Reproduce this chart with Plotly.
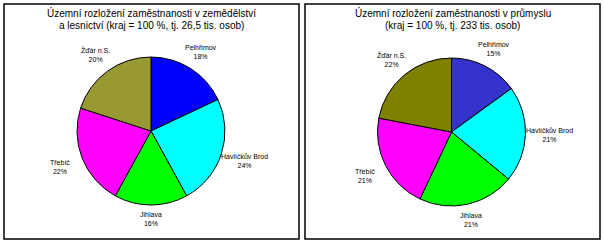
import math
import plotly.graph_objects as go

W, H = 604, 242

districts = ["Pelhřimov", "Havlíčkův Brod", "Jihlava", "Třebíč", "Žďár n.S."]
agri_share = [18, 24, 16, 22, 20]
industry_share = [15, 21, 21, 21, 22]
agri_colors = ["#0000FF", "#00FFFF", "#00FF00", "#FF00FF", "#999933"]
industry_colors = ["#3333CC", "#00FFFF", "#00FF00", "#FF00FF", "#808000"]
agri_title = ["Územní rozložení zaměstnanosti v zemědělství",
              "a lesnictví (kraj = 100 %, tj. 26,5 tis. osob)"]
industry_title = ["Územní rozložení zaměstnanosti v průmyslu",
                  "(kraj = 100 %, tj. 233 tis. osob)"]

# panel layout (pixels)
panels = [
    dict(box=(4, 4, 299, 239), cx=151, cy=131, r=74, vals=agri_share,
         colors=agri_colors, title=agri_title),
    dict(box=(305, 4, 600, 239), cx=451.5, cy=132, r=74, vals=industry_share,
         colors=industry_colors, title=industry_title),
]

fig = go.Figure()
shapes = []
annotations = []


def px(x):
    return x / W


def py(y):
    return 1 - y / H


for p in panels:
    cx, cy, r = p["cx"], p["cy"], p["r"]
    fig.add_trace(go.Pie(
        labels=districts, values=p["vals"], sort=False, direction="clockwise",
        rotation=0, textinfo="none", hoverinfo="label+percent",
        marker=dict(colors=p["colors"], line=dict(color="#000000", width=1)),
        domain=dict(x=[px(cx - r), px(cx + r)], y=[py(cy + r), py(cy - r)]),
        showlegend=False,
    ))
    x0, y0, x1, y1 = p["box"]
    shapes.append(dict(type="rect", xref="paper", yref="paper",
                       x0=px(x0), x1=px(x1), y0=py(y1), y1=py(y0),
                       line=dict(color="#000000", width=1.5)))
    tx = (x0 + x1) / 2
    for i, line in enumerate(p["title"]):
        annotations.append(dict(text=line, xref="paper", yref="paper",
                                x=px(tx), y=py(13 + 13 * i), xanchor="center",
                                yanchor="middle", showarrow=False,
                                font=dict(family="Arial, Liberation Sans", size=10,
                                          color="#000000")))
    total = sum(p["vals"])
    cum = 0
    for name, v in zip(districts, p["vals"]):
        mid = (cum + v / 2) / total * 2 * math.pi
        cum += v
        s, c = math.sin(mid), math.cos(mid)
        d = r * 1.19 + r * 0.14 * abs(s)
        lx, ly = cx + d * s, cy - d * c
        pct = round(v / total * 100)
        annotations.append(dict(text=f"{name}<br>{pct}%", xref="paper", yref="paper",
                                x=px(lx), y=py(ly), xanchor="center", yanchor="middle",
                                showarrow=False,
                                font=dict(family="Arial, Liberation Sans", size=7,
                                          color="#000000")))

fig.update_layout(
    width=W, height=H, margin=dict(l=0, r=0, t=0, b=0),
    paper_bgcolor="#FFFFFF", plot_bgcolor="#FFFFFF",
    shapes=shapes, annotations=annotations,
)
fig.write_html("out.html")
